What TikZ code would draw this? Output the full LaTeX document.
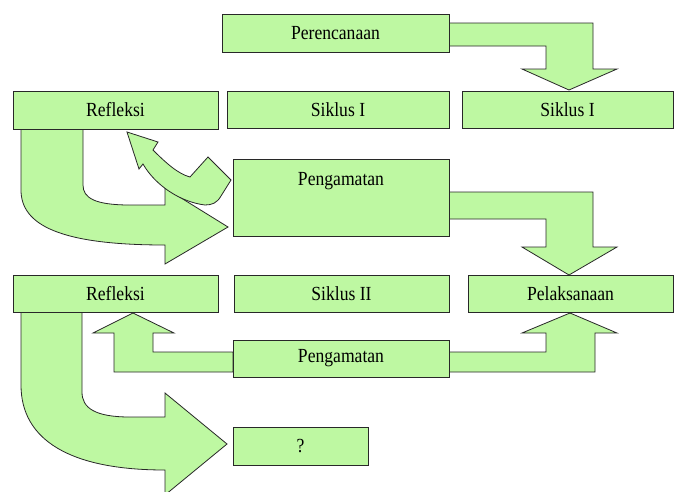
\documentclass[tikz,border=0pt]{standalone}
\usepackage{fontspec}
\setmainfont{Liberation Serif}
\definecolor{gfill}{RGB}{190,248,162}
\definecolor{gline}{RGB}{40,40,40}
\newcommand{\T}[1]{\scalebox{0.88}[1]{#1}}
\begin{document}
\begin{tikzpicture}[x=1pt,y=-1pt,
  box/.style={draw=gline, fill=gfill, line width=0.9pt, inner sep=0pt,
              font=\fontsize{20}{24}\selectfont},
  blk/.style={draw=gline, fill=gfill, line width=0.8pt, line join=miter}]
\useasboundingbox (0,0) rectangle (674,491);
\fill[white] (0,0) rectangle (674,491);

% ---- block arrows ----
% Perencanaan -> Siklus I (right)
\draw[blk] (449,23) -- (593,23) -- (593,69) -- (617,69) -- (569,90) -- (522,69)
  -- (546,69) -- (546,46) -- (449,46) -- cycle;
% Pengamatan -> Pelaksanaan
\draw[blk] (449,192) -- (593,192) -- (593,247) -- (617,247) -- (569,275) -- (522,247)
  -- (546,247) -- (546,219) -- (449,219) -- cycle;
% Pengamatan 2 -> Refleksi 2
\draw[blk] (233,352) -- (153,352) -- (153,333) -- (174,333) -- (133,313) -- (93,333)
  -- (114,333) -- (114,372) -- (233,372) -- cycle;
% Pengamatan 2 -> Pelaksanaan
\draw[blk] (449,352) -- (546,352) -- (546,333) -- (522,333) -- (570,313) -- (617,333)
  -- (595,333) -- (595,372) -- (449,372) -- cycle;
% Refleksi 1 -> Pengamatan (big curved)
\draw[blk] (21,129) -- (21,190) .. controls (21,225) and (60,245) .. (165,245)
  -- (165,264) -- (228,227) -- (165,188) -- (165,205) -- (130,205)
  .. controls (95,205) and (83,198) .. (83,185) -- (83,129) -- cycle;
% Pengamatan -> Refleksi 1 (small curved)
\draw[blk] (127,132) -- (158,142) -- (153,150)
  .. controls (165,162) and (178,174) .. (190,177)
  -- (208,157) -- (231,180) -- (221,196)
  .. controls (217,203) and (212,205) .. (205,205)
  .. controls (180,202) and (155,185) .. (143,164)
  -- (139,169) -- cycle;
% Refleksi 2 -> ? (big curved)
\draw[blk] (21,312) -- (21,385) .. controls (21,440) and (70,470) .. (165,470)
  -- (165,495) -- (227,444) -- (165,393) -- (165,417) -- (130,417)
  .. controls (95,417) and (82,408) .. (82,392) -- (82,312) -- cycle;

% ---- boxes ----
\node[box, minimum width=227pt, minimum height=38pt] (per) at (335.5,33) {\T{Perencanaan}};
\node[box, minimum width=205pt, minimum height=38pt] (ref1) at (115.5,110) {\T{Refleksi}};
\node[box, minimum width=222pt, minimum height=37pt] (s1a) at (338,109.5) {\T{Siklus I}};
\node[box, minimum width=211pt, minimum height=37pt] (s1b) at (567.5,109.5) {\T{Siklus I}};
\node[box, minimum width=216pt, text height=26pt, text depth=51pt] (peng1) at (341,197.5) {\T{Pengamatan}};
\node[box, minimum width=205pt, minimum height=37pt] (ref2) at (115.5,294) {\T{Refleksi}};
\node[box, minimum width=215pt, minimum height=37pt] (s2) at (341.5,294) {\T{Siklus II}};
\node[box, minimum width=205pt, minimum height=37pt] (pel) at (570.5,294) {\T{Pelaksanaan}};
\node[box, minimum width=216pt, minimum height=37pt] (peng2) at (341,358.5) {\T{Pengamatan}};
\node[box, minimum width=135pt, minimum height=38pt] (q) at (300.5,446) {\T{?}};
\end{tikzpicture}
\end{document}
